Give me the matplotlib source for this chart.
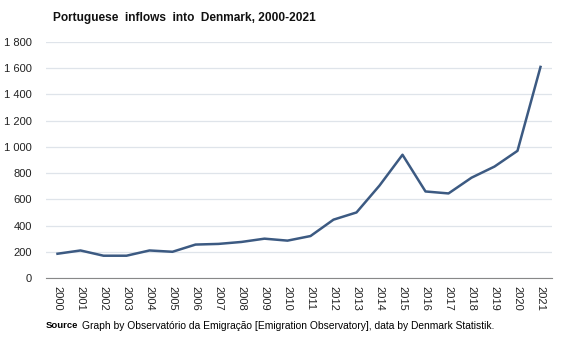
import matplotlib.pyplot as plt
from matplotlib.ticker import FuncFormatter

plt.rcParams['font.family'] = ['Liberation Sans', 'DejaVu Sans']

# data
years = list(range(2000, 2022))
inflows = [185, 210, 170, 170, 210, 200, 255, 260, 275, 300, 285, 320,
           445, 500, 705, 940, 660, 645, 765, 850, 970, 1610]

fig = plt.figure(figsize=(5.67, 3.4), dpi=100)
ax = fig.add_axes([46 / 567, 1 - 278 / 340, (552 - 46) / 567, (278 - 42) / 340])

ax.plot(years, inflows, color='#3c5a82', linewidth=1.8, clip_on=False, zorder=3)

ax.set_xlim(1999.5, 2021.5)
ax.set_ylim(0, 1800)
ax.set_yticks(range(0, 1801, 200))
ax.yaxis.set_major_formatter(FuncFormatter(lambda v, p: f'{int(v):,}'.replace(',', ' ')))
ax.set_xticks(years)
ax.set_xticklabels([str(y) for y in years], rotation=-90)

ax.grid(axis='y', color='#dfe4ea', linewidth=0.9)
ax.set_axisbelow(True)
for s in ['top', 'right', 'left']:
    ax.spines[s].set_visible(False)
ax.spines['bottom'].set_color('#888888')
ax.tick_params(axis='both', length=0, labelsize=8, colors='#222222')
ax.tick_params(axis='x', pad=6)
ax.tick_params(axis='y', pad=10)

fig.text(53 / 567, 1 - 18 / 340, 'Portuguese  inflows  into  Denmark, 2000-2021',
         fontsize=8.6, fontweight='bold', va='center', ha='left', color='#111111')
fig.text(46 / 567, 1 - 326 / 340, 'Source', fontsize=6.8, fontweight='bold',
         va='center', ha='left')
fig.text(82 / 567, 1 - 326 / 340,
         'Graph by Observatório da Emigração [Emigration Observatory], data by Denmark Statistik.',
         fontsize=7.4, va='center', ha='left')

fig.savefig('out.png', dpi=100)
